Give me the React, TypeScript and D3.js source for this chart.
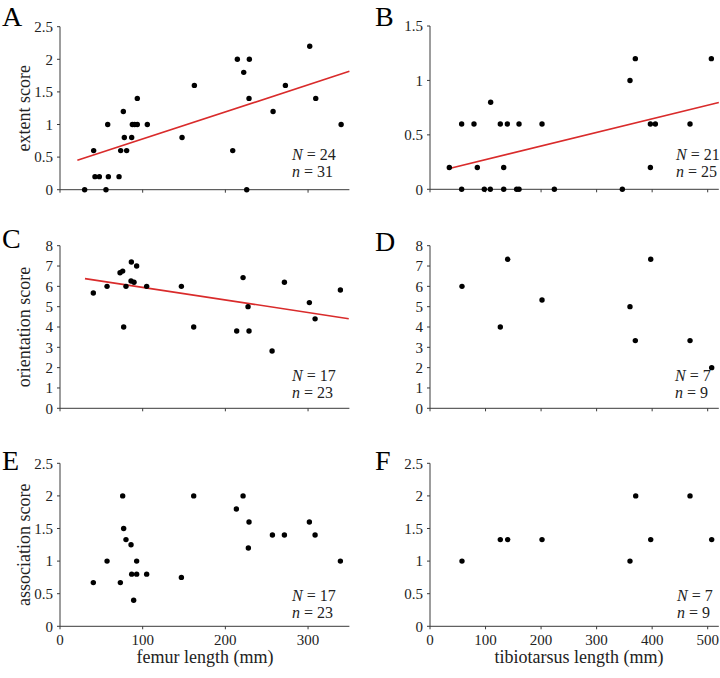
import React from "react";
import * as d3 from "d3";

// ---------- DATA ----------
const extentFemurX = [29.8, 40.7, 42.3, 47.6, 55.6, 57.7, 58.5, 71.4, 73.4, 76.6, 77.8, 80.6, 86.7, 87.5, 90.3, 93.5, 93.5, 105.6, 147.6, 162.5, 208.9, 214.5, 222.2, 225.8, 229, 228.6, 257.7, 272.6, 302, 309.3, 340];
const extentFemurY = [0, 0.6, 0.2, 0.2, 0, 1.0, 0.2, 0.2, 0.6, 1.2, 0.8, 0.6, 0.8, 1.0, 1.0, 1.4, 1.0, 1.0, 0.8, 1.6, 0.6, 2.0, 1.8, 0, 2.0, 1.4, 1.2, 1.6, 2.2, 1.4, 1.0];

const extentTibX = [34.8, 57, 57, 79.2, 85.2, 97.8, 108.6, 109.2, 126.6, 132.7, 132.7, 139.3, 156, 160.3, 160.3, 201.7, 223.9, 346.3, 360.1, 369.7, 396.8, 396.8, 405.8, 468.2, 506.6];
const extentTibY = [0.2, 0.6, 0, 0.6, 0.2, 0, 0, 0.8, 0.6, 0.2, 0, 0.6, 0, 0, 0.6, 0.6, 0, 0, 1.0, 1.2, 0.2, 0.6, 0.6, 0.6, 1.2];

const orientFemurX = [40.3, 56.9, 72.6, 75.8, 77, 79.8, 86.3, 85.9, 89.5, 92.7, 104.8, 146.8, 161.7, 213.7, 221.4, 227.4, 228.6, 256.5, 271.4, 301.6, 308.5, 339.1];
const orientFemurY = [5.67, 6.0, 6.67, 6.75, 4.0, 6.0, 7.2, 6.26, 6.2, 7.0, 6.0, 6.0, 4.0, 3.8, 6.43, 5.0, 3.8, 2.82, 6.2, 5.2, 4.4, 5.82];

const orientTibX = [57.6, 126.6, 139.9, 201.7, 360.1, 369.7, 397.4, 468.2, 507.2];
const orientTibY = [6.0, 4.0, 7.33, 5.33, 5.0, 3.33, 7.33, 3.33, 2.0];

const assocFemurX = [40.3, 56.9, 73, 75.8, 77, 79.8, 85.9, 86.7, 89.1, 92.7, 92.7, 104.8, 146.8, 161.7, 213.3, 221.4, 228.6, 227.8, 256.9, 271.4, 301.6, 308.5, 339.1];
const assocFemurY = [0.67, 1.0, 0.67, 2.0, 1.5, 1.33, 1.25, 0.8, 0.4, 1.0, 0.8, 0.8, 0.75, 2.0, 1.8, 2.0, 1.6, 1.2, 1.4, 1.4, 1.6, 1.4, 1.0];

const assocTibX = [57.6, 126.6, 139.9, 201.7, 360.1, 370.4, 397.4, 468.2, 507.2];
const assocTibY = [1.0, 1.33, 1.33, 1.33, 1.0, 2.0, 1.33, 2.0, 1.33];

// regression lines: [xStart, xEnd, intercept, slope]
const fitA = [21, 350, 0.363, 0.00415];
const fitB = [31.2, 520, 0.148, 0.00125];
const fitC = [30.2, 349.2, 6.567, -0.00618];

const femurTicks = [0, 100, 200, 300];
const tibTicks = [0, 100, 200, 300, 400, 500];
const ticks25 = [0, 0.5, 1, 1.5, 2, 2.5];
const ticks15 = [0, 0.5, 1, 1.5];
const ticks8 = [0, 1, 2, 3, 4, 5, 6, 7, 8];

const FONT = "'Liberation Serif', 'Times New Roman', serif";

type PanelProps = {
  letter: string;
  letterX: number;
  letterY: number;
  xs: number[];
  ys: number[];
  xDomain: [number, number];
  xRange: [number, number];
  yDomain: [number, number];
  yRange: [number, number];
  xTicks: number[];
  yTicks: number[];
  showXLabels: boolean;
  fit?: number[];
  N: string;
  n: string;
  annX: number;
  annY: number;
  yTitle?: string;
  xTitle?: string;
  xTitleX?: number;
};

function Panel(p: PanelProps) {
  const x = d3.scaleLinear().domain(p.xDomain).range(p.xRange);
  const y = d3.scaleLinear().domain(p.yDomain).range(p.yRange);
  const axisColor = "#3a3a3a";
  const fitLine = p.fit
    ? d3.line<number>().x((v) => x(v)).y((v) => y(p.fit![2] + p.fit![3] * v))([p.fit[0], p.fit[1]])
    : null;
  const y0 = y(p.yDomain[0]);
  const x0 = x(p.xDomain[0]);
  return (
    <g>
      <text x={p.letterX} y={p.letterY} fontSize={28} fontFamily={FONT} fill="#000">{p.letter}</text>
      {/* y axis */}
      <line x1={x0} x2={x0} y1={y(p.yDomain[1])} y2={y0} stroke={axisColor} strokeWidth={1} />
      {p.yTicks.map((t) => (
        <g key={"y" + t}>
          <line x1={x0 - 3} x2={x0} y1={y(t)} y2={y(t)} stroke={axisColor} strokeWidth={1} />
          <text x={x0 - 7} y={y(t)} dy="0.35em" textAnchor="end" fontSize={15} fontFamily={FONT} fill="#222">{t}</text>
        </g>
      ))}
      {/* x axis */}
      <line x1={x0} x2={x(p.xDomain[1])} y1={y0} y2={y0} stroke={axisColor} strokeWidth={1} />
      {p.xTicks.map((t) => (
        <g key={"x" + t}>
          <line x1={x(t)} x2={x(t)} y1={y0} y2={y0 + 3} stroke={axisColor} strokeWidth={1} />
          {p.showXLabels && (
            <text x={x(t)} y={y0 + 19} textAnchor="middle" fontSize={15} fontFamily={FONT} fill="#222">{t}</text>
          )}
        </g>
      ))}
      {fitLine && <path d={fitLine} stroke="#d92b2b" strokeWidth={1.6} fill="none" />}
      {p.xs.map((v, i) => (
        <circle key={i} cx={x(v)} cy={y(p.ys[i])} r={2.7} fill="#000" />
      ))}
      <text x={p.annX} y={p.annY} fontSize={16} fontFamily={FONT} fill="#222">
        <tspan fontStyle="italic">N</tspan> = {p.N}
      </text>
      <text x={p.annX} y={p.annY + 17} fontSize={16} fontFamily={FONT} fill="#222">
        <tspan fontStyle="italic">n</tspan> = {p.n}
      </text>
      {p.yTitle && (
        <text
          transform={`translate(24,${(p.yRange[0] + p.yRange[1]) / 2}) rotate(-90)`}
          textAnchor="middle"
          dominantBaseline="central"
          fontSize={18}
          fontFamily={FONT}
          fill="#222"
        >
          {p.yTitle}
        </text>
      )}
      {p.xTitle && (
        <text x={p.xTitleX} y={663} textAnchor="middle" fontSize={18} fontFamily={FONT} fill="#222">{p.xTitle}</text>
      )}
    </g>
  );
}

export default function App() {
  const L: [number, number] = [60, 349.4];
  const R: [number, number] = [430, 718.8];
  const fD: [number, number] = [0, 350];
  const tD: [number, number] = [0, 520];
  return (
    <svg width={720} height={678} style={{ position: "absolute", left: 0, top: 0, background: "#fff" }}>
      <rect width={720} height={678} fill="#fff" />
      <Panel letter="A" letterX={2} letterY={26} xs={extentFemurX} ys={extentFemurY} xDomain={fD} xRange={L}
        yDomain={[0, 2.5]} yRange={[189.7, 26.7]} xTicks={femurTicks} yTicks={ticks25} showXLabels={false}
        fit={fitA} N="24" n="31" annX={292} annY={160} yTitle="extent score" />
      <Panel letter="B" letterX={375} letterY={26} xs={extentTibX} ys={extentTibY} xDomain={tD} xRange={R}
        yDomain={[0, 1.5]} yRange={[189.3, 26]} xTicks={tibTicks} yTicks={ticks15} showXLabels={false}
        fit={fitB} N="21" n="25" annX={676} annY={160} />
      <Panel letter="C" letterX={2} letterY={248} xs={orientFemurX} ys={orientFemurY} xDomain={fD} xRange={L}
        yDomain={[0, 8]} yRange={[408.3, 245.7]} xTicks={femurTicks} yTicks={ticks8} showXLabels={false}
        fit={fitC} N="17" n="23" annX={292} annY={381} yTitle="orientation score" />
      <Panel letter="D" letterX={375} letterY={251} xs={orientTibX} ys={orientTibY} xDomain={tD} xRange={R}
        yDomain={[0, 8]} yRange={[408.3, 245.7]} xTicks={tibTicks} yTicks={ticks8} showXLabels={false}
        N="7" n="9" annX={675} annY={381} />
      <Panel letter="E" letterX={2} letterY={470} xs={assocFemurX} ys={assocFemurY} xDomain={fD} xRange={L}
        yDomain={[0, 2.5]} yRange={[626.3, 463.3]} xTicks={femurTicks} yTicks={ticks25} showXLabels={true}
        N="17" n="23" annX={292} annY={601} yTitle="association score" xTitle="femur length (mm)" xTitleX={205} />
      <Panel letter="F" letterX={375} letterY={470} xs={assocTibX} ys={assocTibY} xDomain={tD} xRange={R}
        yDomain={[0, 2.5]} yRange={[626.3, 463.3]} xTicks={tibTicks} yTicks={ticks25} showXLabels={true}
        N="7" n="9" annX={677} annY={601} xTitle="tibiotarsus length (mm)" xTitleX={579} />
    </svg>
  );
}
